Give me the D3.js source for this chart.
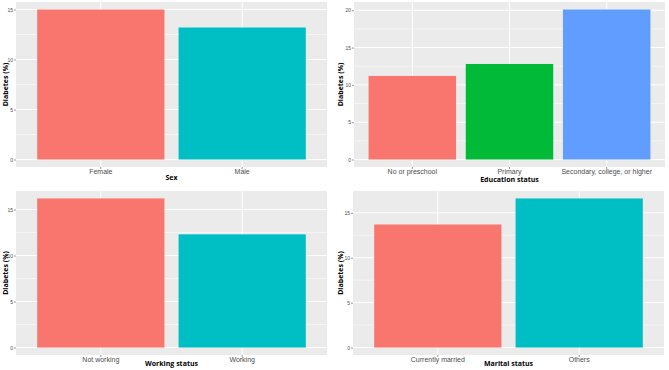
<!DOCTYPE html>
<html>
<head>
<meta charset="utf-8">
<script src="https://cdn.jsdelivr.net/npm/d3@7"></script>
<style>
  body { margin: 0; background: #fff; }
  svg { display: block; font-family: "Open Sans", "Noto Sans", sans-serif; }
</style>
</head>
<body>
<svg id="chart" width="669" height="370"></svg>
<script>
// values (diabetes %)
const sexCats = ["Female", "Male"];
const sexVals = [15.0, 13.2];

const eduCats = ["No or preschool", "Primary", "Secondary, college, or higher"];
const eduVals = [11.2, 12.8, 20.1];

const workCats = ["Not working", "Working"];
const workVals = [16.2, 12.3];

const maritalCats = ["Currently married", "Others"];
const maritalVals = [13.7, 16.6];

const ticks15 = [0, 5, 10, 15];
const ticks20 = [0, 5, 10, 15, 20];

const hue2 = ["#F8766D", "#00BFC4"];
const hue3 = ["#F8766D", "#00BA38", "#619CFF"];

const svg = d3.select("#chart");

// one ggplot-ish panel
function panel(opts) {
  const { cats, vals, ticks, colors, xTitle, box, labY, titleY, yTitleX } = opts;
  const [x0, y0, x1, y1] = box;
  const max = d3.max(vals);

  const x = d3.scaleBand()
    .domain(cats)
    .range([x0, x1])
    .paddingInner(0.1)
    .paddingOuter(0.15);

  const y = d3.scaleLinear()
    .domain([-0.05 * max, max * 1.05])
    .range([y1, y0]);

  const g = svg.append("g");

  g.append("rect")
    .attr("x", x0).attr("y", y0)
    .attr("width", x1 - x0).attr("height", y1 - y0)
    .attr("fill", "#EBEBEB");

  // minor grid
  const minor = d3.range(ticks.length + 1).map((i) => ticks[0] + (i - 0.5) * (ticks[1] - ticks[0]))
    .filter((v) => v > y.domain()[0] && v < y.domain()[1]);
  g.selectAll(".minor")
    .data(minor)
    .join("line")
    .attr("x1", x0).attr("x2", x1)
    .attr("y1", (d) => y(d)).attr("y2", (d) => y(d))
    .attr("stroke", "#fff")
    .attr("stroke-width", 0.5);

  // major grid
  g.selectAll(".hmajor")
    .data(ticks)
    .join("line")
    .attr("x1", x0).attr("x2", x1)
    .attr("y1", (d) => y(d)).attr("y2", (d) => y(d))
    .attr("stroke", "#fff")
    .attr("stroke-width", 1);

  g.selectAll(".vmajor")
    .data(cats)
    .join("line")
    .attr("x1", (d) => x(d) + x.bandwidth() / 2)
    .attr("x2", (d) => x(d) + x.bandwidth() / 2)
    .attr("y1", y0).attr("y2", y1)
    .attr("stroke", "#fff")
    .attr("stroke-width", 1);

  // bars
  g.selectAll(".bar")
    .data(cats)
    .join("rect")
    .attr("x", (d) => x(d))
    .attr("width", x.bandwidth())
    .attr("y", (d, i) => y(vals[i]))
    .attr("height", (d, i) => y(0) - y(vals[i]))
    .attr("fill", (d, i) => colors[i]);

  // axes
  const yAxis = g.append("g")
    .attr("transform", `translate(${x0},0)`)
    .call(d3.axisLeft(y).tickValues(ticks).tickSize(2).tickPadding(1));
  const xAxis = g.append("g")
    .attr("transform", `translate(0,${y1})`)
    .call(d3.axisBottom(x).tickSize(2).tickPadding(1));

  [yAxis, xAxis].forEach((a) => {
    a.select(".domain").remove();
    a.selectAll(".tick line").attr("stroke", "#333").attr("stroke-width", 0.5);
    a.selectAll("text").attr("fill", "#4D4D4D").attr("font-family", null);
  });
  yAxis.selectAll("text").attr("font-size", 5);
  xAxis.selectAll("text")
    .attr("font-size", 7)
    .attr("dy", null)
    .attr("y", labY - y1);

  g.append("text")
    .attr("x", (x0 + x1) / 2)
    .attr("y", titleY)
    .attr("text-anchor", "middle")
    .attr("font-size", 7)
    .attr("font-weight", "bold")
    .attr("fill", "#000")
    .text(xTitle);

  g.append("text")
    .attr("transform", `translate(${yTitleX},${(y0 + y1) / 2}) rotate(-90)`)
    .attr("text-anchor", "middle")
    .attr("font-size", 7)
    .attr("font-weight", "bold")
    .attr("fill", "#000")
    .text("Diabetes (%)");
}

panel({ cats: sexCats, vals: sexVals, ticks: ticks15, colors: hue2, xTitle: "Sex",
  box: [16, 2, 327, 167], labY: 174, titleY: 180, yTitleX: 8 });
panel({ cats: eduCats, vals: eduVals, ticks: ticks20, colors: hue3, xTitle: "Education status",
  box: [354, 2, 665, 167], labY: 174, titleY: 182, yTitleX: 343 });
panel({ cats: workCats, vals: workVals, ticks: ticks15, colors: hue2, xTitle: "Working status",
  box: [16, 191, 327, 355], labY: 362, titleY: 366, yTitleX: 8 });
panel({ cats: maritalCats, vals: maritalVals, ticks: ticks15, colors: hue2, xTitle: "Marital status",
  box: [353, 191, 664, 355], labY: 362, titleY: 366, yTitleX: 343 });
</script>
</body>
</html>
